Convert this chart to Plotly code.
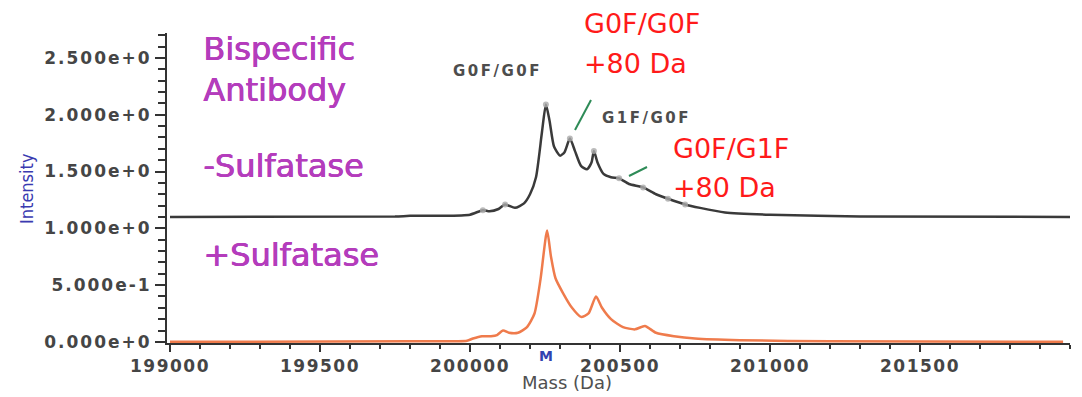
import plotly.graph_objects as go

# ---------------- data ----------------
black_mass = [199000, 199750, 199800, 199900, 200000, 200043, 200065, 200095, 200117, 200150,
              200180, 200200, 200220, 200240, 200253, 200265, 200280, 200300, 200315, 200333,
              200350, 200370, 200390, 200405, 200413, 200425, 200445, 200470, 200497, 200530,
              200577, 200620, 200660, 200717, 200767, 200850, 201000, 201300, 202000]
black_int = [1.100, 1.103, 1.110, 1.110, 1.120, 1.160, 1.150, 1.170, 1.210, 1.180,
             1.220, 1.300, 1.450, 1.850, 2.090, 1.950, 1.720, 1.640, 1.670, 1.790,
             1.680, 1.550, 1.520, 1.580, 1.680, 1.580, 1.480, 1.450, 1.440, 1.390,
             1.360, 1.300, 1.260, 1.210, 1.180, 1.140, 1.120, 1.105, 1.100]
black_peaks = [200043, 200117, 200253, 200333, 200413, 200497, 200577, 200660, 200717]

orange_mass = [199000, 199800, 199990, 200010, 200040, 200070, 200090, 200110, 200130, 200160,
               200190, 200215, 200235, 200257, 200270, 200285, 200310, 200340, 200370, 200395,
               200420, 200440, 200470, 200510, 200550, 200583, 200620, 200680, 200750, 200900,
               201200, 201977]
orange_int = [0.000, 0.005, 0.010, 0.030, 0.050, 0.050, 0.060, 0.100, 0.080, 0.080,
              0.130, 0.250, 0.550, 0.980, 0.750, 0.560, 0.430, 0.300, 0.220, 0.250,
              0.400, 0.300, 0.200, 0.130, 0.110, 0.140, 0.080, 0.050, 0.030, 0.015,
              0.005, 0.000]

y_ticks = [0.0, 0.5, 1.0, 1.5, 2.0, 2.5]
y_ticktext = ["0.000e+0", "5.000e-1", "1.000e+0", "1.500e+0", "2.000e+0", "2.500e+0"]
x_ticks = [199000, 199500, 200000, 200500, 201000, 201500]

# ---------------- layout geometry ----------------
W, H = 1082, 397
ML, MR, MT, MB = 167, 12, 33, 54
PW, PH = W - ML - MR, H - MT - MB
XR = [198990, 202000]
YR = [-0.01, 2.72]


def pxp(px):
    return (px - ML) / PW


def pyp(py):
    return (H - MB - py) / PH


def px2x(px):
    return XR[0] + pxp(px) * (XR[1] - XR[0])


def px2y(py):
    return YR[0] + pyp(py) * (YR[1] - YR[0])


def spaced(t, ls):
    return f'<span style="letter-spacing:{ls}px"><b>{t}</b></span>'


fig = go.Figure()
fig.add_trace(go.Scatter(x=orange_mass, y=orange_int, mode="lines",
                         line=dict(color="#ef7b4c", width=2.5, shape="spline", smoothing=0.6),
                         hoverinfo="skip", showlegend=False))
fig.add_trace(go.Scatter(x=black_mass, y=black_int, mode="lines",
                         line=dict(color="#3a3a3a", width=2.5, shape="spline", smoothing=0.6),
                         hoverinfo="skip", showlegend=False))
lookup = dict(zip(black_mass, black_int))
fig.add_trace(go.Scatter(x=black_peaks, y=[lookup[m] for m in black_peaks], mode="markers",
                         marker=dict(color="rgba(170,170,170,0.8)", size=6),
                         hoverinfo="skip", showlegend=False))

fig.update_xaxes(range=XR, tickvals=x_ticks, ticktext=[spaced(v, 1.5) for v in x_ticks],
                 ticks="outside", ticklen=7, tickwidth=2, tickcolor="#333",
                 showline=True, linecolor="#333", linewidth=2, showgrid=False, zeroline=False,
                 tickfont=dict(family="DejaVu Sans", size=17, color="#454545"),
                 minor=dict(dtick=100, tick0=199000, ticks="outside", ticklen=4,
                            tickwidth=2, tickcolor="#333", showgrid=False))
fig.update_yaxes(range=YR, tickvals=y_ticks, ticktext=[spaced(t, 2) for t in y_ticktext],
                 ticks="outside", ticklen=10, tickwidth=2, tickcolor="#333",
                 showline=True, linecolor="#333", linewidth=2, showgrid=False, zeroline=False,
                 tickfont=dict(family="DejaVu Sans", size=17, color="#454545"),
                 minor=dict(dtick=0.1, tick0=0, ticks="outside", ticklen=7,
                            tickwidth=2, tickcolor="#333", showgrid=False))

purple = "#b43cbc"
red = "#ff1a1a"
grey = "#4d4d4d"
anns = [
    ("Bispecific", 201, 49, purple, 32),
    ("Antibody", 201, 90, purple, 32),
    ("-Sulfatase", 201, 166, purple, 32),
    ("+Sulfatase", 201, 255, purple, 32),
    ("G0F/G0F", 582, 24, red, 27),
    ("+80 Da", 582, 64, red, 27),
    ("G0F/G1F", 671, 148, red, 27),
    ("+80 Da", 671, 187, red, 27),
]
for txt, px, py, col, sz in anns:
    font = dict(family="DejaVu Sans", size=sz, color=col)
    if col == purple:
        font["shadow"] = f"0.8px 0px 0px {purple}, 0.4px 0.3px 0px {purple}"
    fig.add_annotation(x=pxp(px), y=pyp(py), xref="paper", yref="paper",
                       text=txt, showarrow=False, xanchor="left", yanchor="middle",
                       font=font)
for txt, px, py in [("G0F/G0F", 451, 71), ("G1F/G0F", 600, 118)]:
    fig.add_annotation(x=pxp(px), y=pyp(py), xref="paper", yref="paper",
                       text=spaced(txt, 2.5), showarrow=False, xanchor="left", yanchor="middle",
                       font=dict(family="DejaVu Sans", size=15, color=grey))

# green pointer lines
for (x0, y0, x1, y1) in [(575, 130, 591, 100), (629, 176, 647, 167)]:
    fig.add_shape(type="line", xref="x", yref="y",
                  x0=px2x(x0), y0=px2y(y0), x1=px2x(x1), y1=px2y(y1),
                  line=dict(color="#2e8b57", width=2))

# "M" marker under main peak
fig.add_annotation(x=black_peaks[2], y=pyp(356), xref="x", yref="paper",
                   text="<b>M</b>", showarrow=False, yanchor="middle",
                   font=dict(family="DejaVu Sans", size=14, color="#3242b0"))
# axis titles
fig.add_annotation(x=pxp(567), y=pyp(382), xref="paper", yref="paper",
                   text="Mass (Da)", showarrow=False, xanchor="center", yanchor="middle",
                   font=dict(family="DejaVu Sans", size=18, color="#505050"))
fig.add_annotation(x=pxp(27), y=pyp(189), xref="paper", yref="paper",
                   text="Intensity", showarrow=False, textangle=-90,
                   xanchor="center", yanchor="middle",
                   font=dict(family="Liberation Sans Narrow, DejaVu Sans Condensed, sans-serif",
                             size=18, color="#3a3ab0"))

fig.update_layout(width=W, height=H, margin=dict(l=ML, r=MR, t=MT, b=MB),
                  plot_bgcolor="white", paper_bgcolor="white")
fig.write_html("out.html")
